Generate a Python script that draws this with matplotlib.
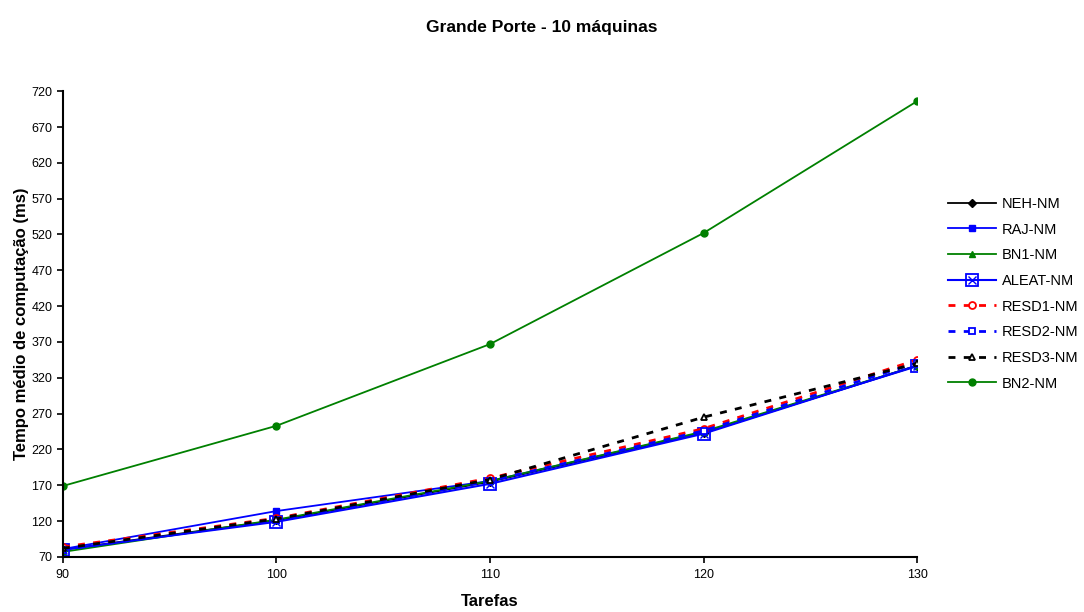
import matplotlib
matplotlib.use("Agg")
import matplotlib.pyplot as plt
from matplotlib.legend_handler import HandlerTuple

plt.rcParams['font.family'] = ['Liberation Sans', 'DejaVu Sans']

tarefas = [90, 100, 110, 120, 130]

neh_nm = [80, 121, 175, 243, 337]
raj_nm = [81, 134, 176, 244, 336]
bn1_nm = [77, 122, 176, 245, 337]
aleat_nm = [80, 119, 172, 242, 337]
resd1_nm = [84, 124, 180, 249, 345]
resd2_nm = [80, 121, 176, 246, 341]
resd3_nm = [82, 123, 178, 265, 340]
bn2_nm = [169, 253, 367, 522, 706]

y_ticks = list(range(70, 721, 50))

fig = plt.figure(figsize=(10.84, 6.12), dpi=100)
ax = fig.add_axes([0.058, 0.09, 0.788, 0.761])

handles = []

h, = ax.plot(tarefas, neh_nm, color='black', lw=1.3, marker='D', ms=4, mfc='black', mec='black')
handles.append(h)
h, = ax.plot(tarefas, raj_nm, color='blue', lw=1.3, marker='s', ms=4, mfc='blue', mec='blue')
handles.append(h)
h, = ax.plot(tarefas, bn1_nm, color='green', lw=1.3, marker='^', ms=5, mfc='green', mec='green')
handles.append(h)

# ALEAT: open square with a cross inside
h1, = ax.plot(tarefas, aleat_nm, color='blue', lw=1.5, marker='s', ms=9, mfc='none', mec='blue', mew=1.3)
h2, = ax.plot(tarefas, aleat_nm, color='blue', lw=0, marker='x', ms=6, mec='blue', mew=1.0)
handles.append((h1, h2))

h, = ax.plot(tarefas, resd1_nm, color='red', lw=2, ls=(0, (2.5, 3)), marker='o', ms=5, mfc='white', mec='red', mew=1.3)
handles.append(h)
h, = ax.plot(tarefas, resd2_nm, color='blue', lw=2, ls=(0, (2.5, 3)), marker='s', ms=5, mfc='white', mec='blue', mew=1.3)
handles.append(h)
h, = ax.plot(tarefas, resd3_nm, color='black', lw=2, ls=(0, (2.5, 3)), marker='^', ms=5, mfc='white', mec='black', mew=1.3)
handles.append(h)
h, = ax.plot(tarefas, bn2_nm, color='green', lw=1.3, marker='o', ms=5, mfc='green', mec='green')
handles.append(h)

labels = ['NEH-NM', 'RAJ-NM', 'BN1-NM', 'ALEAT-NM', 'RESD1-NM', 'RESD2-NM', 'RESD3-NM', 'BN2-NM']

ax.set_xlim(90, 130)
ax.set_ylim(70, 720)
ax.set_xticks(tarefas)
ax.set_yticks(y_ticks)
ax.tick_params(axis='both', labelsize=9, direction='out', length=4, width=1.2, colors='black')
ax.tick_params(axis='x', pad=5)
for side in ('top', 'right'):
    ax.spines[side].set_visible(False)
for side in ('left', 'bottom'):
    ax.spines[side].set_linewidth(1.5)
    ax.spines[side].set_color('black')

ax.set_xlabel('Tarefas', fontsize=12, fontweight='bold', labelpad=9)
ax.set_ylabel('Tempo médio de computação (ms)', fontsize=12, fontweight='bold', labelpad=2)
fig.text(0.5, 0.955, 'Grande Porte - 10 máquinas', ha='center', va='center', fontsize=12.5, fontweight='bold')

fig.legend(handles, labels, loc='center left', bbox_to_anchor=(0.862, 0.52), frameon=False,
           fontsize=10.5, handlelength=3.3, labelspacing=0.8, handletextpad=0.4,
           handler_map={tuple: HandlerTuple(ndivide=1, pad=0)})

fig.savefig('out.png', dpi=100)
